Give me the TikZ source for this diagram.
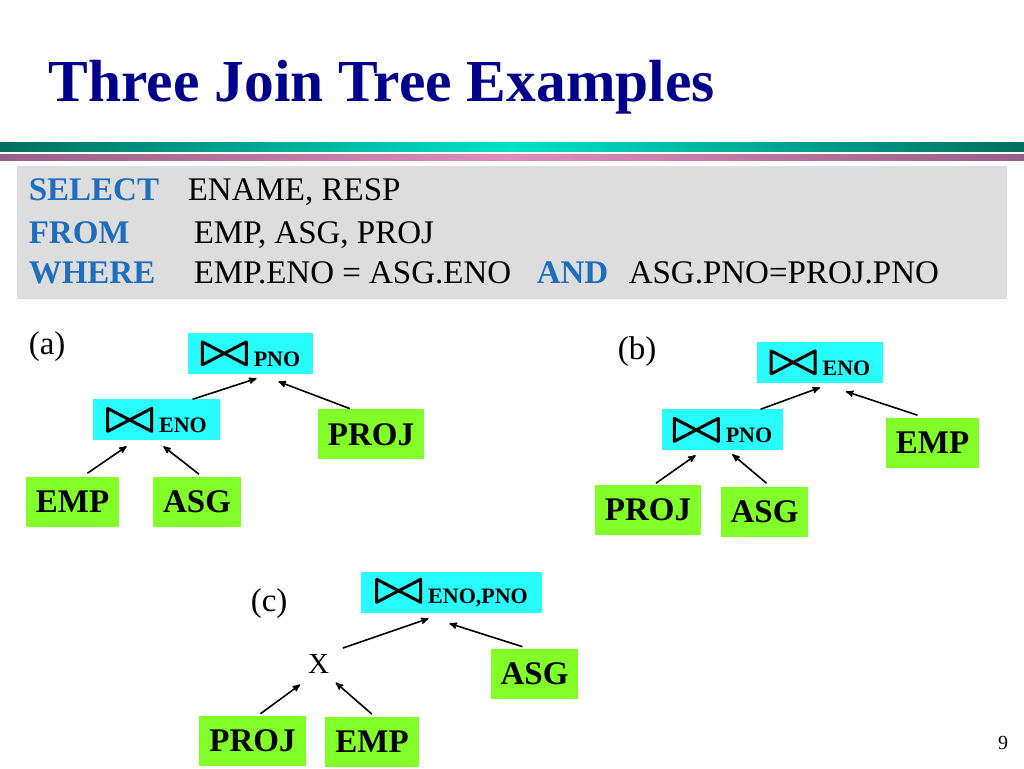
\documentclass[tikz,border=0pt]{standalone}
\usepackage{fontspec}
\setmainfont{Liberation Serif}
\usepackage{tikz}
\usetikzlibrary{arrows,positioning}
\definecolor{titleblue}{RGB}{0,0,140}
\definecolor{kwblue}{RGB}{30,110,190}
\definecolor{boxgray}{RGB}{221,221,221}
\definecolor{joincyan}{RGB}{40,252,252}
\definecolor{relgreen}{RGB}{130,255,40}
\definecolor{tealdark}{RGB}{0,110,95}
\definecolor{teallight}{RGB}{0,225,200}
\definecolor{pinkdark}{RGB}{150,95,130}
\definecolor{pinklight}{RGB}{225,140,185}
\newcommand{\tiesym}{\tikz[baseline=0pt]\draw[-,shorten >=0pt,line width=3pt,line join=round]
	(1.5pt,1.5pt) -- (1.5pt,24.5pt) -- (45.5pt,1.5pt) -- (45.5pt,24.5pt) -- cycle;}
\newcommand{\jn}[1]{\tiesym\hspace{6pt}{\fontsize{22}{22}\selectfont\bfseries #1}}

\begin{document}
\begin{tikzpicture}[x=1pt,y=1pt,->,>=stealth',shorten >=1pt,line width=1.6pt,
		join node/.style={fill=joincyan,minimum height=41pt,inner sep=0pt},
		rel node/.style={fill=relgreen,minimum height=50pt,inner xsep=10pt,inner ysep=0pt,
			font=\fontsize{33}{33}\selectfont\bfseries},
		sql/.style={anchor=base west,inner sep=0pt,font=\fontsize{33}{33}\selectfont},
		kw/.style={sql,font=\fontsize{33}{33}\selectfont\bfseries,text=kwblue},
		tag/.style={anchor=base west,inner sep=0pt,font=\fontsize{33}{33}\selectfont}]
		\useasboundingbox (0,0) rectangle (1024,768);

		\node[anchor=base west,inner sep=0pt,text=titleblue,
			font=\fontsize{59.5}{59.5}\selectfont\bfseries] (title) at (48,666) {Three Join Tree Examples};
		\shade[-,left color=tealdark,right color=tealdark,middle color=teallight] (0,616) rectangle (1024,625);
		\shade[-,left color=pinkdark,right color=pinkdark,middle color=pinklight] (0,607) rectangle (1024,613);
		\fill[-,boxgray] (17,469) rectangle (1007,602);

		% query
		\node[kw] (select) at (28,567) {SELECT};
		\node[sql] (selargs) at (187,567) {ENAME, RESP};
		\node[kw] (from) at (28,524) {FROM};
		\node[sql] (fromargs) at (193,524) {EMP, ASG, PROJ};
		\node[kw] (where) at (28,484) {WHERE};
		\node[sql] (cond1) at (193,484) {EMP.ENO = ASG.ENO};
		\node[kw] (and) at (536,484) {AND};
		\node[sql] (cond2) at (628,484) {ASG.PNO=PROJ.PNO};

		% (a)
		\node[tag] (taga) at (28,413) {(a)};
		\node[join node,minimum width=125pt] (pnoA) at (250.5,414.5) {\jn{PNO}};
		\node[join node,minimum width=127pt] (enoA) at (156.5,348) {\jn{ENO}};
		\node[rel node] (projA) at (371,333.5) {PROJ};
		\node[rel node] (empA) at (72.5,266) {EMP};
		\node[rel node] (asgA) at (197,266) {ASG};
		\path
		([xshift=36pt]enoA.north) edge ([xshift=7pt,yshift=-4pt]pnoA.south)
		([xshift=-21pt]projA.north) edge ([xshift=27pt,yshift=-7pt]pnoA.south)
		([xshift=15pt,yshift=3pt]empA.north) edge ([xshift=-29pt,yshift=-5pt]enoA.south)
		([xshift=2pt,yshift=2pt]asgA.north) edge ([xshift=6pt,yshift=-5pt]enoA.south);

		% (b)
		\node[tag] (tagb) at (617,408) {(b)};
		\node[join node,minimum width=126pt] (enoB) at (820,405.5) {\jn{ENO}};
		\node[join node,minimum width=121pt] (pnoB) at (722.5,338) {\jn{PNO}};
		\node[rel node] (empB) at (932.5,325) {EMP};
		\node[rel node] (projB) at (648,258) {PROJ};
		\node[rel node] (asgB) at (764.5,256) {ASG};
		\path
		([xshift=38pt]pnoB.north) edge ([xshift=1pt,yshift=-4pt]enoB.south)
		([xshift=-15pt,yshift=2pt]empB.north) edge ([xshift=25pt,yshift=-8pt]enoB.south)
		([xshift=8pt,yshift=1pt]projB.north) edge ([xshift=-26pt,yshift=-4pt]pnoB.south)
		([xshift=2pt,yshift=3pt]asgB.north) edge ([xshift=9pt,yshift=-3pt]pnoB.south);

		% (c)
		\node[tag] (tagc) at (250,157) {(c)};
		\node[join node,minimum width=181pt] (joinC) at (451.5,175.5) {\jn{ENO,PNO}};
		\node[anchor=base,inner sep=0pt,font=\fontsize{29}{29}\selectfont] (cross) at (318.5,95) {X};
		\node[rel node] (asgC) at (534.5,94.5) {ASG};
		\node[rel node] (projC) at (252.5,27.5) {PROJ};
		\node[rel node] (empC) at (372,26) {EMP};
		\path
		([xshift=24.5pt,yshift=25pt]cross.base) edge ([xshift=-22pt,yshift=-5pt]joinC.south)
		([xshift=-12pt,yshift=1pt]asgC.north) edge ([xshift=-3pt,yshift=-10pt]joinC.south)
		([xshift=8pt,yshift=1pt]projC.north) edge ([xshift=-17.5pt,yshift=-11pt]cross.base)
		([yshift=2pt]empC.north) edge ([xshift=16.5pt,yshift=-9pt]cross.base);

		\node[anchor=base,inner sep=0pt,font=\fontsize{20}{20}\selectfont] (pagenum) at (1003,19) {9};
\end{tikzpicture}
\end{document}
